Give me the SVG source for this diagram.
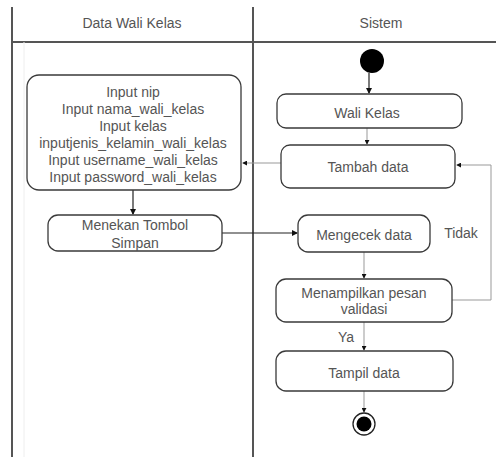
<svg xmlns="http://www.w3.org/2000/svg" width="496" height="457" viewBox="0 0 496 457">
<defs>
<marker id="ah" viewBox="0 0 6 6" refX="5" refY="3" markerWidth="5" markerHeight="5" orient="auto">
<path d="M0,0 L6,3 L0,6 z" fill="#111"/>
</marker>
</defs>
<style>
.lane{stroke:#555;stroke-width:2;fill:none}
.node{fill:#fff;stroke:#3a3a3a;stroke-width:1.3}
.t{font-family:"Liberation Sans",Arial,sans-serif;font-size:14px;fill:#555;text-anchor:middle}
.c{stroke:#222;stroke-width:1.2;fill:none}
.cl{stroke:#999;stroke-width:1;fill:none}
</style>
<rect width="496" height="457" fill="#fff"/>
<g id="swimlanes">
<line class="lane" x1="12" y1="7" x2="12" y2="457"/>
<line class="lane" x1="253" y1="7" x2="253" y2="457"/>
<line class="lane" x1="12" y1="42" x2="496" y2="42"/>
<line x1="24" y1="42" x2="24" y2="457" stroke="#eee" stroke-width="1"/>
<text class="t" x="132" y="28">Data Wali Kelas</text>
<text class="t" x="381" y="28">Sistem</text>
</g>
<g id="connectors">
<line class="c" x1="369" y1="73" x2="369" y2="93" marker-end="url(#ah)"/>
<line class="cl" x1="367" y1="128" x2="367" y2="144" marker-end="url(#ah)"/>
<line class="cl" x1="281" y1="163" x2="243" y2="163" marker-end="url(#ah)"/>
<line class="c" x1="133" y1="190" x2="133" y2="214" marker-end="url(#ah)"/>
<line class="c" x1="222" y1="233" x2="297" y2="233" marker-end="url(#ah)"/>
<line class="cl" x1="364" y1="252" x2="364" y2="278" marker-end="url(#ah)"/>
<polyline class="cl" points="452,300 491,300 491,165 457,165" marker-end="url(#ah)"/>
<line class="cl" x1="364" y1="322" x2="364" y2="350" marker-end="url(#ah)"/>
<line class="cl" x1="364" y1="391" x2="364" y2="412" marker-end="url(#ah)"/>
<text class="t" x="461" y="238">Tidak</text>
<text class="t" x="346" y="342">Ya</text>
</g>
<g id="start"><circle cx="372" cy="61" r="12" fill="#000"/></g>
<g id="wali-kelas">
<rect class="node" x="277" y="94" width="185" height="34" rx="9"/>
<text class="t" x="367" y="118">Wali Kelas</text>
</g>
<g id="tambah-data">
<rect class="node" x="281" y="145" width="174" height="43" rx="9"/>
<text class="t" x="368" y="172">Tambah data</text>
</g>
<g id="input">
<rect class="node" x="27" y="75" width="214" height="115" rx="12"/>
<text class="t" x="133" y="96.5">Input nip</text>
<text class="t" x="133" y="113.5">Input nama_wali_kelas</text>
<text class="t" x="133" y="130.5">Input kelas</text>
<text class="t" x="133" y="147.5">inputjenis_kelamin_wali_kelas</text>
<text class="t" x="133" y="164.5">Input username_wali_kelas</text>
<text class="t" x="133" y="181.5">Input password_wali_kelas</text>
</g>
<g id="menekan">
<rect class="node" x="48" y="215" width="174" height="36" rx="10"/>
<text class="t" x="135" y="230">Menekan Tombol</text>
<text class="t" x="135" y="248">Simpan</text>
</g>
<g id="mengecek">
<rect class="node" x="298" y="215" width="132" height="37" rx="10"/>
<text class="t" x="364" y="240">Mengecek data</text>
</g>
<g id="menampilkan">
<rect class="node" x="276" y="279" width="176" height="43" rx="10"/>
<text class="t" x="364" y="298">Menampilkan pesan</text>
<text class="t" x="364" y="314">validasi</text>
</g>
<g id="tampil-data">
<rect class="node" x="276" y="351" width="177" height="40" rx="10"/>
<text class="t" x="364" y="378">Tampil data</text>
</g>
<g id="end">
<circle cx="364" cy="424" r="11" fill="#fff" stroke="#222" stroke-width="1.3"/>
<circle cx="364" cy="424" r="7.5" fill="#000"/>
</g>
</svg>
